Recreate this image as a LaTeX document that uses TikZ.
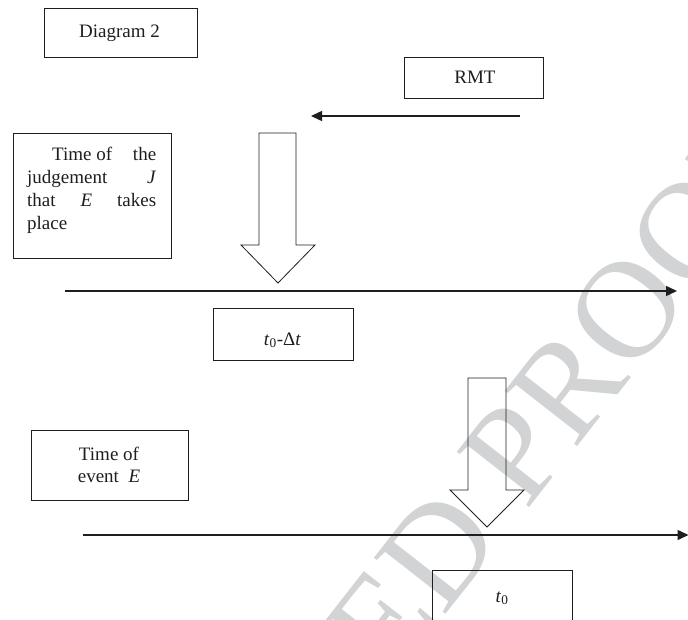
\documentclass[tikz,border=0pt]{standalone}
\usepackage{fontspec}
\setmainfont{Liberation Serif}
\usetikzlibrary{arrows.meta}
\definecolor{wm}{RGB}{209,211,212}
\definecolor{ink}{RGB}{30,30,30}
\begin{document}
\begin{tikzpicture}[x=1pt,y=-1pt,
  box/.style={draw=ink,line width=0.8pt,inner sep=0pt},
  lbl/.style={inner sep=0pt,font=\fontsize{19}{23}\selectfont,text=ink},
  tl/.style={draw=ink,line width=1.5pt,-{Triangle[length=11pt,width=10pt]}},
  blk/.style={draw=ink,line width=0.8pt,line join=miter}]
\useasboundingbox (0,0) rectangle (688,620);
\clip (0,0) rectangle (688,620);
% watermark
\node[rotate=52,text=wm,inner sep=0pt,font=\fontsize{139}{139}\selectfont] (wmark) at (302,725) {UNCORRECTED PROOF};
% boxes
\node[box,minimum width=153pt,minimum height=49pt] (diag) at (120.5,32.5) {};
\node[lbl,anchor=base] (diagt) at (119.5,37.7) {Diagram 2};
\node[box,minimum width=139pt,minimum height=41pt] (rmt) at (473.5,77.5) {};
\node[lbl,anchor=base] (rmtt) at (475,83.3) {RMT};
\node[box,minimum width=158pt,minimum height=125pt] (judge) at (92,195.5) {};
\node[lbl,anchor=base west] (judget) at (27,161) {\parbox[t]{129pt}{\fontsize{19}{23}\selectfont
  \hbox to 129pt{\hspace*{25pt}Time of\hfill the}%
  \hbox to 129pt{judgement\hfill\textit{J}}%
  \hbox to 129pt{that\hfill\textit{E}\hfill takes}%
  \hbox to 129pt{place\hfill}}};
\node[box,minimum width=140pt,minimum height=52pt] (dt) at (283,334) {};
\node[lbl,anchor=base] (dtt) at (282.5,345) {\textit{t}\textsubscript{0}-Δ\textit{t}};
\node[box,minimum width=157pt,minimum height=70pt] (evt) at (109.5,465) {};
\node[lbl,anchor=base] (evtt) at (109,460.5) {\parbox[t]{120pt}{\centering\fontsize{19}{22}\selectfont Time of\\event\ \ \textit{E}}};
\node[box,minimum width=140pt,minimum height=80pt] (tz) at (502,610) {};
\node[lbl,anchor=base] (tzt) at (502,602) {\textit{t}\textsubscript{0}};
% RMT arrow
\coordinate (r1) at (520,116);
\coordinate (r2) at (311,116);
\draw[draw=ink,line width=1.4pt,-{Triangle[length=11pt,width=10pt]}] (r1) -- (r2);
% timelines
\coordinate (a1) at (65,291);
\coordinate (a2) at (677,291);
\draw[tl] (a1) -- (a2);
\coordinate (b1) at (83,535);
\coordinate (b2) at (688.5,535);
\draw[tl] (b1) -- (b2);
% block arrows
\draw[blk] (259,133) -- (296,133) -- (296,245) -- (315,245) -- (278,283) -- (241,245) -- (259,245) -- cycle;
\draw[blk] (468,378) -- (506,378) -- (506,490) -- (524,490) -- (487,527) -- (450,490) -- (468,490) -- cycle;
\end{tikzpicture}
\end{document}
